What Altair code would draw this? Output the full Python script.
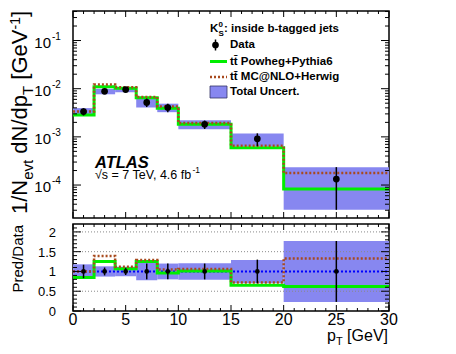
import altair as alt
import pandas as pd

FONT = "Liberation Sans"
W, H1, H2 = 316, 207, 87

# ---------------- data ----------------
bin_lo = [0, 2, 4, 6, 8, 10, 15, 20]
bin_hi = [2, 4, 6, 8, 10, 15, 20, 30]
bin_center = [1, 3, 5, 7, 9, 12.5, 17.5, 25]
data_val = [3.35e-3, 8.8e-3, 9.6e-3, 5.2e-3, 4.07e-3, 1.82e-3, 9.1e-4, 1.33e-4]
data_relerr = [0.17, 0.10, 0.09, 0.20, 0.20, 0.20, 0.30, 0.77]
total_relunc = [0.18, 0.13, 0.12, 0.22, 0.20, 0.21, 0.29, 0.77]
ratio_powheg = [0.85, 1.25, 1.07, 1.25, 0.96, 1.01, 0.65, 0.62]
ratio_mcnlo = [1.00, 1.39, 1.12, 1.29, 1.05, 1.06, 0.72, 1.33]

x_major = [0, 5, 10, 15, 20, 25, 30]
x_labels = ["0", "5", "10", "15", "20", "25", "30"]
x_minor = [1, 2, 3, 4, 6, 7, 8, 9, 11, 12, 13, 14, 16, 17, 18, 19,
           21, 22, 23, 24, 26, 27, 28, 29]
y_decades = [1e-4, 1e-3, 1e-2, 1e-1]
y_exponents = ["-4", "-3", "-2", "-1"]
y_minor_mult = [2, 3, 4, 5, 6, 7, 8, 9]
y_minor_dec = [1e-5, 1e-4, 1e-3, 1e-2, 1e-1]
ratio_major = [0, 0.5, 1, 1.5, 2]
ratio_labels = ["0", "0.5", "1", "1.5", "2"]
ratio_minor = [0.1, 0.2, 0.3, 0.4, 0.6, 0.7, 0.8, 0.9, 1.1, 1.2, 1.3, 1.4,
               1.6, 1.7, 1.8, 1.9, 2.1]
ratio_ref = [0.5, 1.5, 2.0]

Y_DOMAIN = [2.07e-5, 0.41]
y_minor = [m * d for d in y_minor_dec for m in y_minor_mult
           if Y_DOMAIN[0] <= m * d <= Y_DOMAIN[1]]

# ---------------- styles ----------------
GREEN = "#00ee00"
BROWN = "#a84a1e"
BAND = "#8787f0"
BLUE = "#0000ff"

# Arial / Liberation Sans advance widths (1/1000 em) for text layout
AW = {' ': 278, '1': 556, '/': 278, 'N': 722, 'e': 556, 'v': 500, 't': 278,
      'd': 556, 'p': 556, 'T': 611, '[': 278, 'G': 778, 'V': 667, '-': 333,
      ']': 278, 's': 500, '=': 584, '7': 556, ',': 278, '4': 556, '.': 278,
      '6': 556, 'f': 278, 'b': 556, '\u221a': 549, 'K': 722}


def tw(s, size):
    return sum(AW.get(c, 556) for c in s) * size / 1000.0


xs = alt.Scale(domain=[0, 30], nice=False, zero=False)
ys_top = alt.Scale(type="log", domain=Y_DOMAIN, nice=False)
ys_rat = alt.Scale(domain=[0, 2.2], nice=False, zero=False)

bins = pd.DataFrame({
    "lo": bin_lo, "hi": bin_hi, "c": bin_center, "d": data_val,
    "err": data_relerr, "unc": total_relunc,
})
bins["d_lo"] = bins["d"] * (1 - bins["err"])
bins["d_hi"] = bins["d"] * (1 + bins["err"])
bins["u_lo"] = bins["d"] * (1 - bins["unc"])
bins["u_hi"] = bins["d"] * (1 + bins["unc"])
bins["one"] = 1.0
bins["r_lo"] = 1 - bins["err"]
bins["r_hi"] = 1 + bins["err"]
bins["ru_lo"] = 1 - bins["unc"]
bins["ru_hi"] = 1 + bins["unc"]

pw_abs = [d * r for d, r in zip(data_val, ratio_powheg)]
mc_abs = [d * r for d, r in zip(data_val, ratio_mcnlo)]
steps = pd.DataFrame({
    "x": bin_lo + [bin_hi[-1]],
    "pw": pw_abs + [pw_abs[-1]],
    "mc": mc_abs + [mc_abs[-1]],
    "rpw": ratio_powheg + [ratio_powheg[-1]],
    "rmc": ratio_mcnlo + [ratio_mcnlo[-1]],
})

ONE = pd.DataFrame({"k": [0]})


def X(field):
    return alt.X(field, scale=xs, axis=None)


def tick_layers(xmaj, xmin, ymaj, ymin, yscale, H, lx, ly):
    out = []
    for vals, L in ((xmaj, lx[0]), (xmin, lx[1])):
        b = alt.Chart(pd.DataFrame({"v": vals})).mark_rule(color="black", strokeWidth=1)
        out.append(b.encode(x=X("v:Q"), y=alt.value(H), y2=alt.value(H - L)))
        out.append(b.encode(x=X("v:Q"), y=alt.value(0), y2=alt.value(L)))
    for vals, L in ((ymaj, ly[0]), (ymin, ly[1])):
        b = alt.Chart(pd.DataFrame({"v": vals})).mark_rule(color="black", strokeWidth=1)
        yy = alt.Y("v:Q", scale=yscale, axis=None)
        out.append(b.encode(y=yy, x=alt.value(0), x2=alt.value(L)))
        out.append(b.encode(y=yy, x=alt.value(W), x2=alt.value(W - L)))
    return out


def txt(s, x, y, size, align="left", baseline="alphabetic", weight="normal",
        style="normal", angle=0, dx=0, dy=0, color="black"):
    kw = dict(text=s, align=align, baseline=baseline, fontSize=size, font=FONT,
              fontWeight=weight, fontStyle=style, color=color)
    if angle:
        kw["angle"] = angle
    if dx:
        kw["dx"] = dx
    if dy:
        kw["dy"] = dy
    return alt.Chart(ONE).mark_text(**kw).encode(x=alt.value(x), y=alt.value(y))


# ---------------- top panel ----------------
YT = lambda f: alt.Y(f, scale=ys_top, axis=None)
top_layers = [
    alt.Chart(bins).mark_rect(fill=BAND).encode(
        x=X("lo:Q"), x2="hi:Q", y=YT("u_lo:Q"), y2="u_hi:Q"),
    alt.Chart(steps).mark_line(interpolate="step-after", color=GREEN, strokeWidth=3).encode(
        x=X("x:Q"), y=YT("pw:Q")),
    alt.Chart(steps).mark_line(interpolate="step-after", color=BROWN, strokeWidth=2.5,
                               strokeDash=[2, 2]).encode(x=X("x:Q"), y=YT("mc:Q")),
    alt.Chart(bins).mark_rule(color="black", strokeWidth=1.5).encode(
        x=X("c:Q"), y=YT("d_lo:Q"), y2="d_hi:Q"),
    alt.Chart(bins).mark_point(filled=True, shape="circle", size=45, color="black",
                               opacity=1).encode(x=X("c:Q"), y=YT("d:Q")),
]
top_layers += tick_layers(x_major, x_minor, y_decades, y_minor, ys_top, H1, (6, 3), (8, 4))

ylab = pd.DataFrame({"v": y_decades, "e": y_exponents})
top_layers.append(alt.Chart(ylab).mark_text(
    align="right", baseline="middle", fontSize=15, font=FONT, dy=2, color="black").encode(
    y=YT("v:Q"), x=alt.value(-22), text=alt.value("10")))
top_layers.append(alt.Chart(ylab).mark_text(
    align="left", baseline="middle", fontSize=10, font=FONT, dy=-4, color="black").encode(
    y=YT("v:Q"), x=alt.value(-21), text="e:N"))

# y-axis title with sub/superscripts (rotated)
TB = -46     # baseline x
TS = 203     # start (bottom) y
pieces = [("1/N", 22, 0, 0), ("evt", 15, 6, 0), ("dN/dp", 22, 0, tw(" ", 22)),
          ("T", 15, 6, 0), ("[GeV", 22, 0, tw(" ", 22)), ("-1", 14, -7, 0),
          ("]", 22, 0, 0)]
off = 0.0
for s, size, shift, gap in pieces:
    off += gap
    top_layers.append(txt(s, TB, TS, size, angle=270, dx=off, dy=shift))
    off += tw(s, size)

# legend
LX0, LX1, LT = 137, 154, 157
top_layers.append(txt("K", LX0, 21, 11.5, weight="bold"))
top_layers.append(txt("0", LX0 + 8.6, 16, 8, weight="bold"))
top_layers.append(txt("S", LX0 + 8.6, 24.5, 8, weight="bold"))
top_layers.append(txt(": inside b-tagged jets", LX0 + 14, 21, 11.5, weight="bold"))

top_layers.append(alt.Chart(ONE).mark_rule(color="black", strokeWidth=1.5).encode(
    x=alt.value(142.5), y=alt.value(28.5), y2=alt.value(39.5)))
top_layers.append(alt.Chart(ONE).mark_point(filled=True, shape="circle", size=45,
                                            color="black", opacity=1).encode(
    x=alt.value(142.5), y=alt.value(34)))
top_layers.append(txt("Data", LT, 34, 11.5, baseline="middle", weight="bold"))

top_layers.append(alt.Chart(ONE).mark_rule(color=GREEN, strokeWidth=3).encode(
    x=alt.value(LX0), x2=alt.value(LX1), y=alt.value(50.5)))
top_layers.append(txt("tt\u0304 Powheg+Pythia6", LT, 50.5, 11.5, baseline="middle", weight="bold"))

top_layers.append(alt.Chart(ONE).mark_rule(color=BROWN, strokeWidth=2.5, strokeDash=[2, 2]).encode(
    x=alt.value(LX0), x2=alt.value(LX1), y=alt.value(66)))
top_layers.append(txt("tt\u0304 MC@NLO+Herwig", LT, 66, 11.5, baseline="middle", weight="bold"))

top_layers.append(alt.Chart(ONE).mark_rect(fill=BAND, stroke="#333366", strokeWidth=0.8).encode(
    x=alt.value(LX0), x2=alt.value(LX1), y=alt.value(75), y2=alt.value(87)))
top_layers.append(txt("Total Uncert.", LT, 81, 11.5, baseline="middle", weight="bold"))

# ATLAS label
top_layers.append(txt("ATLAS", 22, 157, 16.5, weight="bold", style="italic"))
en = "\u221as = 7 TeV, 4.6 fb"
top_layers.append(txt(en, 22, 168, 12.5))
top_layers.append(txt("-1", 22 + tw(en, 12.5) - 1.5, 162, 8.5))

top = alt.layer(*top_layers).properties(width=W, height=H1)

# ---------------- ratio panel ----------------
YR = lambda f: alt.Y(f, scale=ys_rat, axis=None)
bot_layers = [
    alt.Chart(bins).mark_rect(fill=BAND).encode(
        x=X("lo:Q"), x2="hi:Q", y=YR("ru_lo:Q"), y2="ru_hi:Q"),
    alt.Chart(pd.DataFrame({"v": ratio_ref})).mark_rule(
        color="#8a8a8a", strokeWidth=1, strokeDash=[1, 2]).encode(
        y=YR("v:Q"), x=alt.value(0), x2=alt.value(W)),
    alt.Chart(pd.DataFrame({"v": [1.0]})).mark_rule(
        color=BLUE, strokeWidth=2, strokeDash=[2, 2]).encode(
        y=YR("v:Q"), x=alt.value(0), x2=alt.value(W)),
    alt.Chart(steps).mark_line(interpolate="step-after", color=GREEN, strokeWidth=3).encode(
        x=X("x:Q"), y=YR("rpw:Q")),
    alt.Chart(steps).mark_line(interpolate="step-after", color=BROWN, strokeWidth=2.5,
                               strokeDash=[2, 2]).encode(x=X("x:Q"), y=YR("rmc:Q")),
    alt.Chart(bins).mark_rule(color="black", strokeWidth=1.5).encode(
        x=X("c:Q"), y=YR("r_lo:Q"), y2="r_hi:Q"),
    alt.Chart(bins).mark_point(filled=True, shape="circle", size=22, color="black",
                               opacity=1).encode(x=X("c:Q"), y=YR("one:Q")),
]
bot_layers += tick_layers(x_major, x_minor, ratio_major, ratio_minor, ys_rat, H2, (6, 3), (8, 4))

# tick labels
bot_layers.append(alt.Chart(pd.DataFrame({"v": x_major, "t": x_labels})).mark_text(
    align="center", baseline="top", fontSize=16, font=FONT, color="black").encode(
    x=X("v:Q"), y=alt.value(H2 + 1), text="t:N"))
bot_layers.append(alt.Chart(pd.DataFrame({"v": ratio_major, "t": ratio_labels})).mark_text(
    align="right", baseline="middle", fontSize=13, font=FONT, color="black", dy=1).encode(
    y=YR("v:Q"), x=alt.value(-17), text="t:N"))

bot_layers.append(txt("Pred/Data", -50, 1, 15, align="right", angle=270))

# x title p_T [GeV]
XR = 315
g = "[GeV]"
bot_layers.append(txt(g, XR, 117, 16, align="right"))
xt = XR - tw(g, 16) - tw(" ", 16)
bot_layers.append(txt("T", xt, 121, 11, align="right"))
xt -= tw("T", 11)
bot_layers.append(txt("p", xt, 117, 16, align="right"))

bot = alt.layer(*bot_layers).properties(width=W, height=H2)

chart = alt.vconcat(top, bot, spacing=2).properties(
    padding={"left": 0, "top": 1, "right": 4, "bottom": 0}
).configure_view(stroke="black", strokeWidth=1.5).configure_axis(grid=False)

chart.save("out.html", embed_options={"renderer": "svg", "actions": False})
